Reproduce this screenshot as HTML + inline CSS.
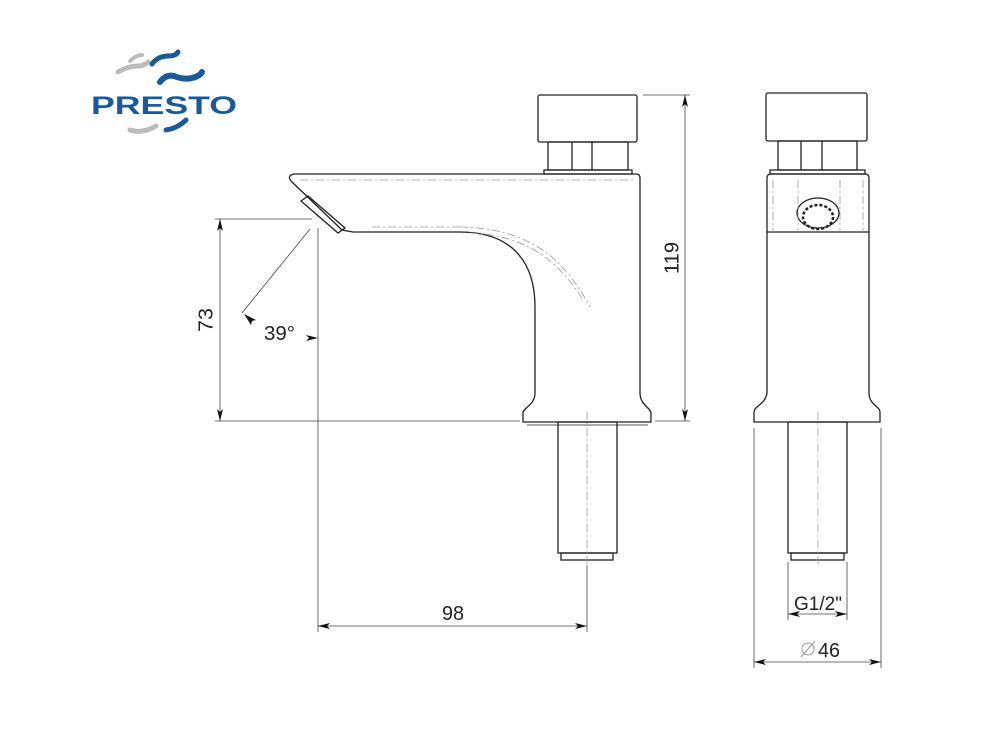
<!DOCTYPE html>
<html><head><meta charset="utf-8"><style>
html,body{margin:0;padding:0;background:#fff}
svg{display:block}
text{font-family:"Liberation Sans",sans-serif;fill:#222}
</style></head><body>
<svg width="989" height="746" viewBox="0 0 989 746" xmlns="http://www.w3.org/2000/svg">
<defs>
<marker id="a" viewBox="0 0 12 6" refX="12" refY="3" markerWidth="12" markerHeight="6" orient="auto-start-reverse" markerUnits="userSpaceOnUse"><path d="M0,0 L12,3 L0,6 L3,3 Z" fill="#111"/></marker>
</defs>
<!-- logo -->
<g>
<path d="M118,72 q10,-6 20,-6 q6,0 10,-4" stroke="#bbb" stroke-width="5" fill="none" stroke-linecap="round"/>
<path d="M130,61 q6,-6 12,-6" stroke="#bbb" stroke-width="4" fill="none" stroke-linecap="round"/>
<path d="M152,64 q6,-8 16,-8 q8,0 10,-4" stroke="#1a5a9a" stroke-width="5" fill="none" stroke-linecap="round"/>
<path d="M160,82 q6,-8 14,-6 q10,4 18,2 q8,-2 10,-6" stroke="#1a5a9a" stroke-width="6" fill="none" stroke-linecap="round"/>
<path d="M130,130 q12,4 26,-4" stroke="#bbb" stroke-width="5" fill="none" stroke-linecap="round"/>
<path d="M166,130 q12,-2 20,-10" stroke="#1a5a9a" stroke-width="5" fill="none" stroke-linecap="round"/>
<text x="91" y="114" font-size="25" font-weight="bold" style="fill:#1a5a9a" textLength="146" lengthAdjust="spacingAndGlyphs">PRESTO</text>
</g>
<g fill="none" stroke="#222" stroke-width="1.3">
<!-- side view -->
<rect x="538" y="95" width="99" height="47" rx="2"/>
<rect x="548" y="142" width="80" height="28"/>
<line x1="572" y1="142" x2="572" y2="170"/><line x1="592" y1="142" x2="592" y2="170"/>
<rect x="544" y="170" width="88" height="4"/>
<path d="M353,232 L460,232 C510,232 535,260 535,307 L535,393 C535,405 523,408 523,413 L523,422 L651,422 L651,413 C651,408 640,405 640,393 L640,178 Q640,174 636,174 L294,174 Q286,176 292,182 L342,230 Z"/>
<path d="M308,196 L345,228 L338,233 L301,201 Z"/>
<rect x="558" y="422" width="59" height="131"/>
<rect x="561" y="553" width="52" height="7"/>
<line x1="527" y1="425" x2="648" y2="425" stroke-width="0.8"/>
<!-- front view -->
<rect x="766" y="93" width="101" height="48" rx="2"/>
<rect x="778" y="141" width="79" height="29"/>
<line x1="801" y1="141" x2="801" y2="170"/><line x1="822" y1="141" x2="822" y2="170"/>
<rect x="770" y="170" width="95" height="4"/>
<path d="M767,393 L767,178 Q767,174 771,174 L865,174 Q869,174 869,178 L869,393 C869,405 880,406 880,412 L880,422 L754,422 L754,412 C754,406 765,405 767,393 Z"/>
<path d="M767,232 L869,232" />
<ellipse cx="818" cy="213" rx="21" ry="15"/>
<ellipse cx="818" cy="217" rx="15" ry="12" stroke-width="2.5" stroke-dasharray="3 2"/>
<rect x="788" y="422" width="59" height="131"/>
<rect x="791" y="553" width="53" height="7"/>
</g>
<g fill="none" stroke="#999" stroke-width="0.8" stroke-dasharray="8 3 2 3">
<line x1="300" y1="180" x2="636" y2="180"/>
<line x1="372" y1="227" x2="460" y2="227"/>
<path d="M460,227 C520,228 560,250 590,307"/>
<path d="M470,233 C520,235 555,255 583,300"/>
<line x1="587" y1="412" x2="587" y2="565"/>
<line x1="818" y1="412" x2="818" y2="565"/>
<line x1="773" y1="180" x2="773" y2="232"/><line x1="863" y1="180" x2="863" y2="232"/>
<line x1="798" y1="180" x2="798" y2="230"/><line x1="840" y1="180" x2="840" y2="230"/>
</g>
<!-- dimensions -->
<g stroke="#444" stroke-width="0.8" fill="none">
<line x1="215" y1="219" x2="312" y2="219"/>
<line x1="215" y1="421" x2="520" y2="421"/>
<line x1="220" y1="219" x2="220" y2="421" marker-start="url(#a)" marker-end="url(#a)"/>
<line x1="318" y1="228" x2="318" y2="632"/>
<line x1="310" y1="229" x2="242" y2="313"/>
<line x1="587" y1="565" x2="587" y2="632"/>
<line x1="318" y1="626" x2="587" y2="626" marker-start="url(#a)" marker-end="url(#a)"/>
<line x1="643" y1="95" x2="690" y2="95"/>
<line x1="655" y1="421" x2="690" y2="421"/>
<line x1="685" y1="95" x2="685" y2="421" marker-start="url(#a)" marker-end="url(#a)"/>
<line x1="788" y1="562" x2="788" y2="620"/><line x1="847" y1="562" x2="847" y2="620"/>
<line x1="788" y1="614" x2="847" y2="614" marker-start="url(#a)" marker-end="url(#a)"/>
<line x1="754" y1="428" x2="754" y2="668"/><line x1="881" y1="428" x2="881" y2="668"/>
<line x1="754" y1="662" x2="881" y2="662" marker-start="url(#a)" marker-end="url(#a)"/>
</g>
<path d="M244,314 L256,320 L252,321 L251,325 Z" fill="#111"/>
<path d="M318,338 L306,335 L309,338 L306,341 Z" fill="#111"/>
<text x="207" y="320" font-size="20" transform="rotate(-90 207 320)" text-anchor="middle" dominant-baseline="middle" textLength="24" lengthAdjust="spacingAndGlyphs">73</text>
<text x="264" y="340" font-size="20" textLength="31" lengthAdjust="spacingAndGlyphs">39°</text>
<text x="453" y="620" font-size="20" text-anchor="middle" textLength="22" lengthAdjust="spacingAndGlyphs">98</text>
<text x="673" y="258" font-size="20" transform="rotate(-90 673 258)" text-anchor="middle" dominant-baseline="middle" textLength="32" lengthAdjust="spacingAndGlyphs">119</text>
<text x="818" y="610" font-size="19" text-anchor="middle" textLength="48" lengthAdjust="spacingAndGlyphs">G1/2"</text>
<circle cx="808" cy="649" r="6" fill="none" stroke="#999" stroke-width="1"/>
<line x1="801" y1="657" x2="815" y2="641" stroke="#999" stroke-width="1"/>
<text x="818" y="657" font-size="20" textLength="22" lengthAdjust="spacingAndGlyphs">46</text>
</svg>
</body></html>
